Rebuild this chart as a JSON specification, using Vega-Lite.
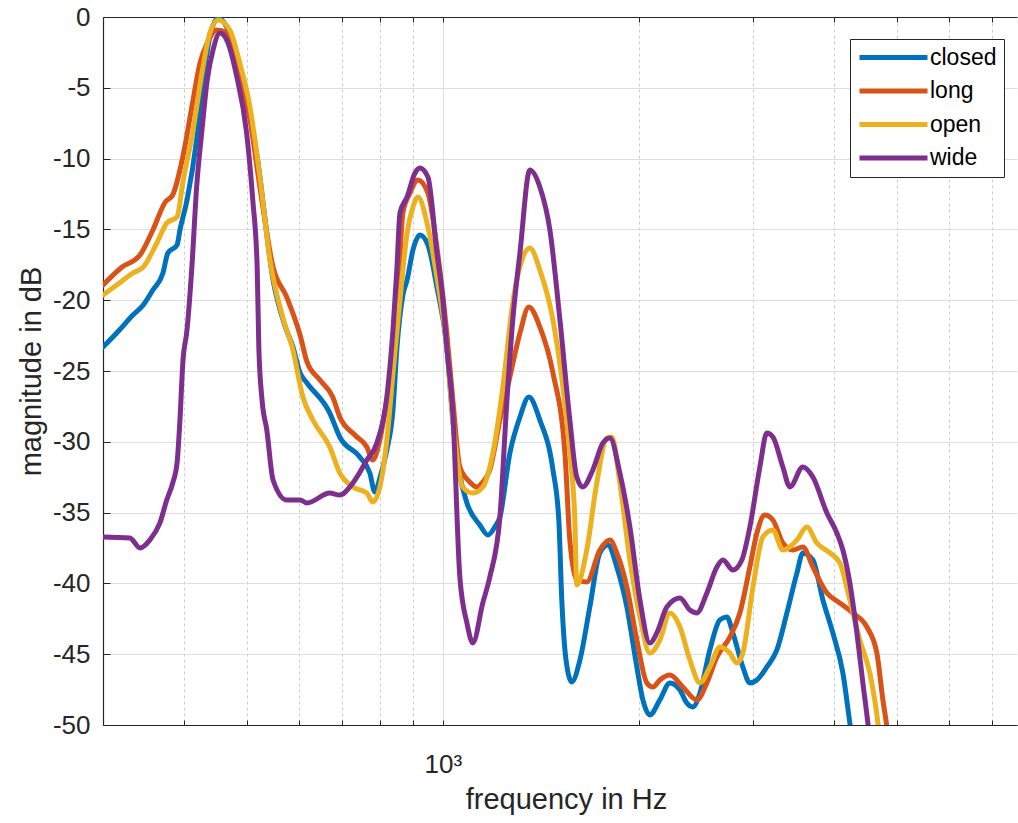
{
  "$schema": "https://vega.github.io/schema/vega-lite/v6.json",
  "width": 914,
  "height": 708,
  "autosize": {"type": "none"},
  "padding": {"left": 103, "top": 17, "right": 1, "bottom": 98},
  "background": "white",
  "config": {"view": {"stroke": null}, "font": "Liberation Sans"},
  "datasets": {
    "spectra": [
      {"s":"closed","f":300,"db":-23.31},{"s":"closed","f":318,"db":-22.10},{"s":"closed","f":333.5,"db":-21.05},{"s":"closed","f":346,"db":-20.34},{"s":"closed","f":358,"db":-19.28},{"s":"closed","f":371,"db":-18.08},{"s":"closed","f":377.5,"db":-16.67},{"s":"closed","f":390,"db":-16.10},{"s":"closed","f":394,"db":-15.04},{"s":"closed","f":404,"db":-12.92},{"s":"closed","f":418,"db":-8.69},{"s":"closed","f":427.5,"db":-4.66},{"s":"closed","f":438,"db":-1.41},{"s":"closed","f":451,"db":-0.07},{"s":"closed","f":465,"db":-0.71},{"s":"closed","f":482,"db":-2.82},{"s":"closed","f":499,"db":-5.86},{"s":"closed","f":518,"db":-9.89},{"s":"closed","f":548,"db":-18.57},{"s":"closed","f":571,"db":-21.75},{"s":"closed","f":588,"db":-23.31},{"s":"closed","f":603,"db":-25.14},{"s":"closed","f":618,"db":-25.85},{"s":"closed","f":670,"db":-27.97},{"s":"closed","f":694,"db":-29.66},{"s":"closed","f":745,"db":-31.07},{"s":"closed","f":772,"db":-32.20},{"s":"closed","f":786,"db":-33.55},{"s":"closed","f":800,"db":-32.56},{"s":"closed","f":820,"db":-30.58},{"s":"closed","f":838,"db":-27.75},{"s":"closed","f":850,"db":-23.31},{"s":"closed","f":868,"db":-19.63},{"s":"closed","f":881,"db":-18.57},{"s":"closed","f":899.5,"db":-16.45},{"s":"closed","f":922,"db":-15.40},{"s":"closed","f":948.5,"db":-16.10},{"s":"closed","f":979,"db":-19.07},{"s":"closed","f":1014,"db":-23.31},{"s":"closed","f":1036,"db":-28.46},{"s":"closed","f":1062,"db":-32.34},{"s":"closed","f":1089,"db":-34.32},{"s":"closed","f":1140,"db":-35.88},{"s":"closed","f":1173,"db":-36.58},{"s":"closed","f":1202,"db":-36.02},{"s":"closed","f":1224,"db":-35.31},{"s":"closed","f":1268,"db":-30.79},{"s":"closed","f":1314,"db":-28.25},{"s":"closed","f":1356,"db":-26.84},{"s":"closed","f":1410,"db":-28.46},{"s":"closed","f":1477,"db":-31.99},{"s":"closed","f":1508,"db":-35.52},{"s":"closed","f":1524,"db":-41.17},{"s":"closed","f":1547,"db":-45.41},{"s":"closed","f":1579,"db":-46.96},{"s":"closed","f":1625,"db":-45.41},{"s":"closed","f":1683,"db":-41.67},{"s":"closed","f":1744,"db":-37.85},{"s":"closed","f":1794,"db":-37.29},{"s":"closed","f":1852,"db":-38.84},{"s":"closed","f":1919,"db":-41.67},{"s":"closed","f":1988,"db":-45.90},{"s":"closed","f":2031,"db":-48.23},{"s":"closed","f":2082,"db":-49.29},{"s":"closed","f":2157,"db":-48.23},{"s":"closed","f":2235,"db":-47.03},{"s":"closed","f":2316,"db":-47.53},{"s":"closed","f":2373,"db":-48.45},{"s":"closed","f":2425,"db":-48.73},{"s":"closed","f":2486,"db":-47.74},{"s":"closed","f":2575,"db":-44.70},{"s":"closed","f":2668,"db":-42.58},{"s":"closed","f":2735,"db":-42.37},{"s":"closed","f":2794,"db":-43.50},{"s":"closed","f":2894,"db":-45.90},{"s":"closed","f":2967,"db":-47.03},{"s":"closed","f":3042,"db":-46.82},{"s":"closed","f":3151,"db":-45.90},{"s":"closed","f":3265,"db":-44.70},{"s":"closed","f":3383,"db":-42.09},{"s":"closed","f":3505,"db":-39.27},{"s":"closed","f":3580,"db":-37.85},{"s":"closed","f":3709,"db":-38.35},{"s":"closed","f":3843,"db":-41.17},{"s":"closed","f":3981,"db":-43.50},{"s":"closed","f":4125,"db":-46.33},{"s":"closed","f":4228,"db":-49.86},{"s":"closed","f":4273,"db":-51.4},

      {"s":"long","f":300,"db":-18.93},{"s":"long","f":321,"db":-17.66},{"s":"long","f":342,"db":-16.81},{"s":"long","f":358,"db":-15.04},{"s":"long","f":374,"db":-13.07},{"s":"long","f":384,"db":-12.57},{"s":"long","f":398,"db":-9.89},{"s":"long","f":412,"db":-6.07},{"s":"long","f":423,"db":-3.25},{"s":"long","f":434,"db":-1.84},{"s":"long","f":449,"db":-0.92},{"s":"long","f":465,"db":-1.13},{"s":"long","f":482,"db":-3.25},{"s":"long","f":505,"db":-7.27},{"s":"long","f":523,"db":-12.01},{"s":"long","f":548,"db":-17.66},{"s":"long","f":575,"db":-19.77},{"s":"long","f":603,"db":-22.46},{"s":"long","f":618,"db":-24.36},{"s":"long","f":647,"db":-25.64},{"s":"long","f":677,"db":-26.84},{"s":"long","f":694,"db":-28.25},{"s":"long","f":732,"db":-29.52},{"s":"long","f":764,"db":-30.37},{"s":"long","f":780,"db":-31.29},{"s":"long","f":800,"db":-29.87},{"s":"long","f":820,"db":-27.05},{"s":"long","f":838,"db":-24.44},{"s":"long","f":852,"db":-19.99},{"s":"long","f":868,"db":-13.84},{"s":"long","f":890,"db":-12.43},{"s":"long","f":915.5,"db":-11.51},{"s":"long","f":948.5,"db":-12.43},{"s":"long","f":979,"db":-16.24},{"s":"long","f":1014,"db":-22.32},{"s":"long","f":1036,"db":-27.05},{"s":"long","f":1062,"db":-31.78},{"s":"long","f":1100,"db":-32.84},{"s":"long","f":1128,"db":-33.19},{"s":"long","f":1152,"db":-32.84},{"s":"long","f":1181,"db":-31.99},{"s":"long","f":1224,"db":-28.46},{"s":"long","f":1268,"db":-25.42},{"s":"long","f":1314,"db":-22.32},{"s":"long","f":1356,"db":-20.48},{"s":"long","f":1410,"db":-21.89},{"s":"long","f":1477,"db":-25.14},{"s":"long","f":1541,"db":-30.79},{"s":"long","f":1568,"db":-36.94},{"s":"long","f":1607,"db":-39.76},{"s":"long","f":1665,"db":-39.90},{"s":"long","f":1744,"db":-37.64},{"s":"long","f":1807,"db":-36.94},{"s":"long","f":1852,"db":-37.85},{"s":"long","f":1919,"db":-40.25},{"s":"long","f":1988,"db":-44.00},{"s":"long","f":2060,"db":-47.03},{"s":"long","f":2104,"db":-47.32},{"s":"long","f":2157,"db":-46.82},{"s":"long","f":2235,"db":-46.47},{"s":"long","f":2340,"db":-47.32},{"s":"long","f":2459,"db":-48.23},{"s":"long","f":2548,"db":-47.03},{"s":"long","f":2640,"db":-45.20},{"s":"long","f":2764,"db":-43.79},{"s":"long","f":2864,"db":-42.09},{"s":"long","f":2967,"db":-38.84},{"s":"long","f":3042,"db":-36.44},{"s":"long","f":3129,"db":-35.17},{"s":"long","f":3219,"db":-35.52},{"s":"long","f":3335,"db":-37.15},{"s":"long","f":3455,"db":-37.64},{"s":"long","f":3580,"db":-37.43},{"s":"long","f":3709,"db":-38.84},{"s":"long","f":3898,"db":-40.68},{"s":"long","f":4081,"db":-41.38},{"s":"long","f":4273,"db":-42.09},{"s":"long","f":4491,"db":-43.08},{"s":"long","f":4653,"db":-44.92},{"s":"long","f":4753,"db":-48.23},{"s":"long","f":4821,"db":-50.14},{"s":"long","f":4855,"db":-51.4},

      {"s":"open","f":300,"db":-19.63},{"s":"open","f":318,"db":-18.79},{"s":"open","f":333.5,"db":-18.08},{"s":"open","f":346,"db":-17.66},{"s":"open","f":363,"db":-15.96},{"s":"open","f":376,"db":-14.55},{"s":"open","f":390,"db":-14.12},{"s":"open","f":398,"db":-11.72},{"s":"open","f":412,"db":-8.19},{"s":"open","f":427.5,"db":-3.53},{"s":"open","f":438,"db":-1.13},{"s":"open","f":451,"db":-0.21},{"s":"open","f":470,"db":-0.92},{"s":"open","f":487,"db":-3.25},{"s":"open","f":505,"db":-6.36},{"s":"open","f":523,"db":-11.30},{"s":"open","f":542,"db":-17.16},{"s":"open","f":567,"db":-21.19},{"s":"open","f":588,"db":-23.52},{"s":"open","f":609,"db":-26.84},{"s":"open","f":631,"db":-28.46},{"s":"open","f":670,"db":-30.37},{"s":"open","f":694,"db":-32.20},{"s":"open","f":727,"db":-33.19},{"s":"open","f":764,"db":-33.62},{"s":"open","f":780,"db":-34.25},{"s":"open","f":800,"db":-33.19},{"s":"open","f":820,"db":-29.87},{"s":"open","f":838,"db":-25.14},{"s":"open","f":859,"db":-19.99},{"s":"open","f":881,"db":-15.25},{"s":"open","f":899.5,"db":-13.42},{"s":"open","f":915.5,"db":-12.71},{"s":"open","f":948.5,"db":-14.83},{"s":"open","f":979,"db":-18.36},{"s":"open","f":1014,"db":-23.31},{"s":"open","f":1036,"db":-28.46},{"s":"open","f":1073,"db":-33.19},{"s":"open","f":1112,"db":-33.62},{"s":"open","f":1152,"db":-33.19},{"s":"open","f":1194,"db":-30.79},{"s":"open","f":1237,"db":-26.13},{"s":"open","f":1281,"db":-20.20},{"s":"open","f":1328,"db":-16.95},{"s":"open","f":1361,"db":-16.31},{"s":"open","f":1410,"db":-17.87},{"s":"open","f":1477,"db":-21.40},{"s":"open","f":1530,"db":-26.13},{"s":"open","f":1568,"db":-30.79},{"s":"open","f":1596,"db":-35.52},{"s":"open","f":1607,"db":-40.11},{"s":"open","f":1665,"db":-37.64},{"s":"open","f":1725,"db":-32.91},{"s":"open","f":1788,"db":-29.73},{"s":"open","f":1820,"db":-29.66},{"s":"open","f":1872,"db":-32.91},{"s":"open","f":1940,"db":-38.35},{"s":"open","f":2010,"db":-42.37},{"s":"open","f":2082,"db":-44.92},{"s":"open","f":2157,"db":-44.00},{"s":"open","f":2235,"db":-42.09},{"s":"open","f":2316,"db":-43.08},{"s":"open","f":2399,"db":-45.41},{"s":"open","f":2486,"db":-47.03},{"s":"open","f":2575,"db":-45.90},{"s":"open","f":2668,"db":-44.49},{"s":"open","f":2764,"db":-44.92},{"s":"open","f":2834,"db":-45.62},{"s":"open","f":2894,"db":-44.92},{"s":"open","f":3000,"db":-40.25},{"s":"open","f":3107,"db":-36.72},{"s":"open","f":3219,"db":-36.23},{"s":"open","f":3335,"db":-37.64},{"s":"open","f":3505,"db":-36.94},{"s":"open","f":3631,"db":-36.02},{"s":"open","f":3762,"db":-37.15},{"s":"open","f":3939,"db":-37.85},{"s":"open","f":4081,"db":-38.56},{"s":"open","f":4228,"db":-41.17},{"s":"open","f":4380,"db":-44.00},{"s":"open","f":4538,"db":-46.33},{"s":"open","f":4670,"db":-49.86},{"s":"open","f":4701,"db":-51.1},

      {"s":"wide","f":300,"db":-36.72},{"s":"wide","f":330,"db":-36.79},{"s":"wide","f":342,"db":-37.50},{"s":"wide","f":354,"db":-36.94},{"s":"wide","f":367,"db":-35.73},{"s":"wide","f":376,"db":-34.11},{"s":"wide","f":384,"db":-32.91},{"s":"wide","f":390,"db":-31.50},{"s":"wide","f":394,"db":-28.46},{"s":"wide","f":398,"db":-24.44},{"s":"wide","f":404,"db":-22.10},{"s":"wide","f":411,"db":-17.66},{"s":"wide","f":418,"db":-12.01},{"s":"wide","f":426,"db":-7.98},{"s":"wide","f":434,"db":-4.45},{"s":"wide","f":443,"db":-2.33},{"s":"wide","f":454,"db":-1.13},{"s":"wide","f":465,"db":-1.62},{"s":"wide","f":482,"db":-4.24},{"s":"wide","f":499,"db":-8.19},{"s":"wide","f":510,"db":-12.92},{"s":"wide","f":518,"db":-17.66},{"s":"wide","f":521,"db":-23.31},{"s":"wide","f":527,"db":-27.05},{"s":"wide","f":536,"db":-29.17},{"s":"wide","f":548,"db":-32.70},{"s":"wide","f":575,"db":-34.11},{"s":"wide","f":603,"db":-34.11},{"s":"wide","f":618,"db":-34.32},{"s":"wide","f":670,"db":-33.62},{"s":"wide","f":694,"db":-33.76},{"s":"wide","f":727,"db":-32.91},{"s":"wide","f":764,"db":-31.29},{"s":"wide","f":791.5,"db":-30.08},{"s":"wide","f":820,"db":-26.84},{"s":"wide","f":838,"db":-22.10},{"s":"wide","f":850,"db":-17.66},{"s":"wide","f":859,"db":-13.84},{"s":"wide","f":881,"db":-12.71},{"s":"wide","f":906,"db":-11.02},{"s":"wide","f":922,"db":-10.66},{"s":"wide","f":948.5,"db":-11.30},{"s":"wide","f":979,"db":-16.67},{"s":"wide","f":1000,"db":-19.99},{"s":"wide","f":1014,"db":-23.31},{"s":"wide","f":1036,"db":-27.97},{"s":"wide","f":1062,"db":-39.55},{"s":"wide","f":1089,"db":-42.80},{"s":"wide","f":1112,"db":-44.21},{"s":"wide","f":1152,"db":-41.38},{"s":"wide","f":1181,"db":-39.55},{"s":"wide","f":1224,"db":-35.31},{"s":"wide","f":1254,"db":-27.26},{"s":"wide","f":1281,"db":-21.40},{"s":"wide","f":1314,"db":-16.67},{"s":"wide","f":1361,"db":-10.81},{"s":"wide","f":1410,"db":-12.01},{"s":"wide","f":1461,"db":-15.04},{"s":"wide","f":1514,"db":-21.40},{"s":"wide","f":1568,"db":-28.46},{"s":"wide","f":1607,"db":-32.49},{"s":"wide","f":1642,"db":-33.19},{"s":"wide","f":1701,"db":-31.99},{"s":"wide","f":1763,"db":-30.08},{"s":"wide","f":1807,"db":-29.73},{"s":"wide","f":1872,"db":-32.20},{"s":"wide","f":1940,"db":-36.02},{"s":"wide","f":2010,"db":-41.17},{"s":"wide","f":2082,"db":-44.21},{"s":"wide","f":2134,"db":-43.50},{"s":"wide","f":2211,"db":-41.67},{"s":"wide","f":2316,"db":-41.03},{"s":"wide","f":2399,"db":-41.88},{"s":"wide","f":2459,"db":-42.09},{"s":"wide","f":2548,"db":-40.68},{"s":"wide","f":2640,"db":-38.84},{"s":"wide","f":2697,"db":-38.35},{"s":"wide","f":2794,"db":-39.05},{"s":"wide","f":2884,"db":-38.35},{"s":"wide","f":2967,"db":-36.02},{"s":"wide","f":3074,"db":-31.78},{"s":"wide","f":3151,"db":-29.38},{"s":"wide","f":3219,"db":-29.66},{"s":"wide","f":3335,"db":-31.78},{"s":"wide","f":3419,"db":-33.19},{"s":"wide","f":3580,"db":-31.78},{"s":"wide","f":3709,"db":-32.49},{"s":"wide","f":3898,"db":-35.03},{"s":"wide","f":4038,"db":-36.44},{"s":"wide","f":4125,"db":-37.64},{"s":"wide","f":4228,"db":-39.97},{"s":"wide","f":4335,"db":-43.50},{"s":"wide","f":4428,"db":-47.03},{"s":"wide","f":4507,"db":-49.86},{"s":"wide","f":4538,"db":-51.1}
    ]
  },
  "data": {"name": "spectra"},
  "layer": [
    {
      "mark": {"type": "line", "strokeWidth": 5, "clip": true, "strokeJoin": "round", "strokeCap": "round", "interpolate": "monotone"},
      "encoding": {
        "x": {
          "field": "f", "type": "quantitative",
          "scale": {"type": "log", "domain": [300, 7644], "nice": false},
          "axis": {
            "orient": "bottom",
            "values": [400, 500, 600, 700, 800, 900, 1000, 2000, 3000, 4000, 5000, 6000, 7000],
            "labelExpr": "datum.value == 1000 ? '10³' : ''",
            "labelOverlap": false,
            "labelFlush": false,
            "labelFontSize": 26,
            "labelColor": "#262626",
            "labelPadding": 31,
            "tickSize": -5,
            "tickColor": "#262626",
            "domainColor": "#262626",
            "domainWidth": 1.2,
            "grid": true,
            "gridColor": {"condition": {"test": "datum.value == 1000", "value": "#dedede"}, "value": "#cccccc"},
            "gridDash": {"condition": {"test": "datum.value == 1000", "value": []}, "value": [3, 3]},
            "title": "frequency in Hz",
            "titleX": 463,
            "titleFontSize": 29,
            "titleFontWeight": "normal",
            "titleColor": "#262626",
            "titlePadding": 8
          }
        },
        "y": {
          "field": "db", "type": "quantitative",
          "scale": {"domain": [-50, 0], "nice": false, "zero": false},
          "axis": {
            "values": [-50, -45, -40, -35, -30, -25, -20, -15, -10, -5, 0],
            "labelExpr": "'' + datum.value",
            "labelFontSize": 26,
            "labelColor": "#262626",
            "labelPadding": 20,
            "tickSize": -7,
            "tickColor": "#262626",
            "domainColor": "#262626",
            "domainWidth": 1.2,
            "grid": true,
            "gridColor": "#dedede",
            "title": "magnitude in dB",
            "titleFontSize": 29,
            "titleFontWeight": "normal",
            "titleColor": "#262626",
            "titlePadding": 6
          }
        },
        "color": {
          "field": "s", "type": "nominal",
          "scale": {"domain": ["closed", "long", "open", "wide"], "range": ["#0072BD", "#D95319", "#EDB120", "#7E2F8E"]},
          "legend": {
            "orient": "none", "legendX": 747, "legendY": 22,
            "title": null,
            "symbolType": "stroke", "symbolSize": 4624, "symbolStrokeWidth": 5,
            "labelFontSize": 23, "labelColor": "#000000", "labelFont": "Liberation Sans",
            "labelOffset": 0,
            "clipHeight": 23, "rowPadding": 9.5, "padding": 7,
            "strokeColor": "#262626", "fillColor": "white"
          }
        }
      }
    },
    {
      "mark": {"type": "line", "strokeOpacity": 0},
      "encoding": {
        "x": {
          "field": "f", "type": "quantitative",
          "axis": {
            "orient": "top",
            "values": [400, 500, 600, 700, 800, 900, 1000, 2000, 3000, 4000, 5000, 6000, 7000],
            "labels": false, "grid": false, "title": null,
            "tickSize": -5, "tickColor": "#262626",
            "domainColor": "#262626", "domainWidth": 1.2
          }
        },
        "y": {"field": "db", "type": "quantitative", "axis": null},
        "detail": {"field": "s"}
      }
    }
  ],
  "resolve": {"axis": {"x": "independent", "y": "independent"}}
}
